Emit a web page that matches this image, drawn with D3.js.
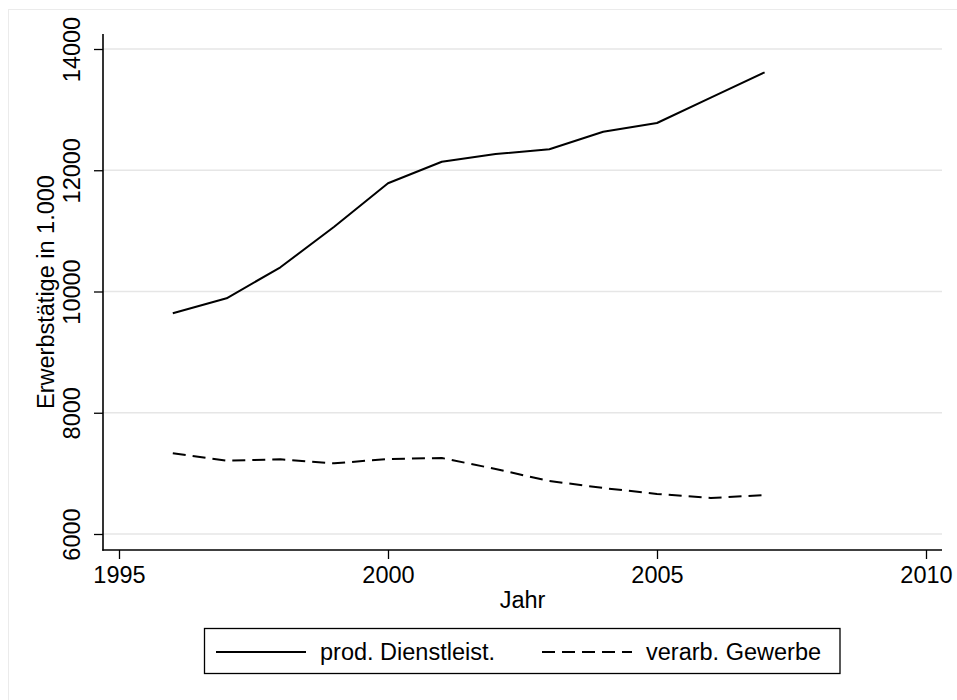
<!DOCTYPE html>
<html>
<head>
<meta charset="utf-8">
<script src="https://cdn.jsdelivr.net/npm/d3@7"></script>
<style>
  html, body { margin: 0; padding: 0; background: #fff; }
  svg { display: block; font-family: "Liberation Sans", Arial, sans-serif; }
</style>
</head>
<body>
<svg id="chart" width="957" height="700"></svg>
<script>
// Erwerbstätige (in 1.000) nach Jahr
const years = [1996, 1997, 1998, 1999, 2000, 2001, 2002, 2003, 2004, 2005, 2006, 2007];
const dienstleist = [9640, 9888, 10399, 11069, 11785, 12141, 12268, 12346, 12636, 12779, 13197, 13616];
const gewerbe = [7331, 7209, 7232, 7166, 7237, 7254, 7072, 6874, 6759, 6660, 6594, 6643];
const seriesNames = ["prod. Dienstleist.", "verarb. Gewerbe"];
const xTicks = [1995, 2000, 2005, 2010];
const yTicks = [6000, 8000, 10000, 12000, 14000];
const xTitle = "Jahr";
const yTitle = "Erwerbstätige in 1.000";

const svg = d3.select("#chart");
const W = 957, H = 700;
const FS = 23.5;

// outer graph region frame
svg.append("rect")
  .attr("x", 8.5).attr("y", 9.5)
  .attr("width", W).attr("height", H)
  .attr("fill", "#fff").attr("stroke", "#ebebeb").attr("stroke-width", 1);

const plotL = 103, plotR = 942, plotT = 34, plotB = 550;

const x = d3.scaleLinear().domain([1995, 2010]).range([119, 926]);
const y = d3.scaleLinear().domain([6000, 14000]).range([534, 49]);

// horizontal grid lines
svg.append("g").selectAll("line").data(yTicks).join("line")
  .attr("x1", plotL).attr("x2", plotR)
  .attr("y1", d => y(d)).attr("y2", d => y(d))
  .attr("stroke", "#e6e6e6").attr("stroke-width", 1.6);

// y axis
const yAxis = svg.append("g").attr("transform", `translate(${plotL},0)`)
  .call(d3.axisLeft(y).tickValues(yTicks).tickSize(9).tickPadding(6).tickFormat(d3.format("d")));
yAxis.select(".domain").remove();
yAxis.selectAll(".tick line").attr("stroke", "#000").attr("stroke-width", 1.3);
yAxis.selectAll(".tick text")
  .attr("font-size", FS).attr("fill", "#000")
  .attr("x", null).attr("dy", null)
  .attr("text-anchor", "middle")
  .attr("transform", "translate(-23,0) rotate(-90)");
svg.append("line").attr("x1", plotL).attr("x2", plotL).attr("y1", plotT).attr("y2", plotB + 0.7)
  .attr("stroke", "#000").attr("stroke-width", 1.6);

// x axis
const xAxis = svg.append("g").attr("transform", `translate(0,${plotB})`)
  .call(d3.axisBottom(x).tickValues(xTicks).tickSize(9).tickPadding(7).tickFormat(d3.format("d")));
xAxis.select(".domain").remove();
xAxis.selectAll(".tick line").attr("stroke", "#000").attr("stroke-width", 1.3);
xAxis.selectAll(".tick text").attr("font-size", FS).attr("fill", "#000")
  .attr("dy", null).attr("y", 33);
svg.append("line").attr("x1", plotL - 0.7).attr("x2", plotR).attr("y1", plotB).attr("y2", plotB)
  .attr("stroke", "#000").attr("stroke-width", 1.6);

// axis titles
svg.append("text").attr("x", (plotL + plotR) / 2).attr("y", 608)
  .attr("text-anchor", "middle").attr("font-size", FS).text(xTitle);
svg.append("text")
  .attr("transform", `translate(53.5,${(plotT + plotB) / 2}) rotate(-90)`)
  .attr("text-anchor", "middle").attr("font-size", FS).text(yTitle);

// series lines
const series = [
  { name: seriesNames[0], values: dienstleist, dash: null },
  { name: seriesNames[1], values: gewerbe, dash: "13,7" }
];
const line = d3.line().x(d => x(d[0])).y(d => y(d[1]));
svg.append("g").selectAll("path").data(series).join("path")
  .attr("d", s => line(years.map((yr, i) => [yr, s.values[i]])))
  .attr("fill", "none").attr("stroke", "#000").attr("stroke-width", 2)
  .attr("stroke-linejoin", "round")
  .attr("stroke-dasharray", s => s.dash);

// legend
const legend = svg.append("g");
legend.append("rect").attr("x", 204.5).attr("y", 628.5).attr("width", 635.5).attr("height", 45)
  .attr("fill", "#fff").attr("stroke", "#000").attr("stroke-width", 1.3);
const legendX = [216, 542];
const item = legend.selectAll("g.item").data(series).join("g")
  .attr("class", "item")
  .attr("transform", (d, i) => `translate(${legendX[i]},0)`);
item.append("line").attr("x1", 0).attr("x2", 90).attr("y1", 652).attr("y2", 652)
  .attr("stroke", "#000").attr("stroke-width", 2)
  .attr("stroke-dasharray", d => d.dash);
item.append("text").attr("x", 104).attr("y", 659.5).attr("font-size", FS).text(d => d.name);
</script>
</body>
</html>
